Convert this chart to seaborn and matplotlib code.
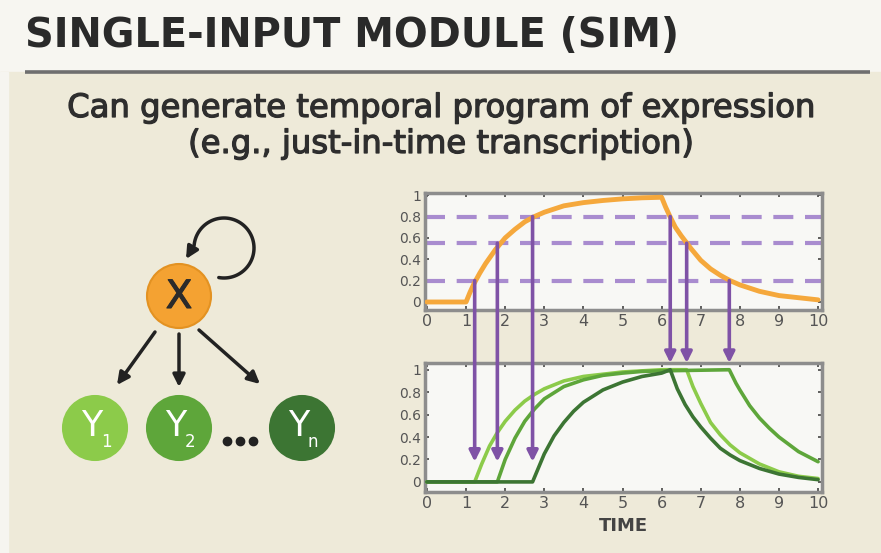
import numpy as np
import pandas as pd
import matplotlib
matplotlib.use("Agg")
import matplotlib.pyplot as plt
import matplotlib.patheffects as pe
import seaborn as sns
from matplotlib.patches import Circle, Rectangle, FancyArrowPatch, ConnectionPatch
from matplotlib.path import Path

# Input X (orange)
x_time = [0.0, 1.0, 1.1, 1.2, 1.35, 1.5, 1.75, 2.0, 2.25, 2.5, 2.75, 3.0, 3.5, 4.0,
          4.5, 5.0, 5.5, 6.0, 6.1, 6.2, 6.35, 6.5, 6.75, 7.0, 7.25, 7.5, 7.75, 8.0,
          8.5, 9.0, 9.5, 10.0]
x_level = [0.0, 0.0, 0.09, 0.17, 0.27, 0.36, 0.49, 0.60, 0.68, 0.75, 0.80, 0.84, 0.90, 0.93,
           0.95, 0.965, 0.975, 0.98, 0.89, 0.81, 0.70, 0.62, 0.50, 0.39, 0.31, 0.25, 0.20, 0.16,
           0.10, 0.06, 0.04, 0.02]

# activation thresholds (dashed lines)
thresholds = [0.2, 0.55, 0.8]
# crossing times
on_times = [1.22, 1.8, 2.7]
off_times = [6.22, 6.64, 7.73]

# targets Y1, Y2, Yn (bottom panel)
y1_time = [0.0, 1.22, 1.4, 1.6, 1.8, 2.0, 2.25, 2.5, 2.75, 3.0, 3.5, 4.0, 4.5, 5.0, 5.5, 6.0,
           6.64, 6.8, 7.0, 7.25, 7.5, 7.75, 8.0, 8.5, 9.0, 9.5, 10.0]
y1_level = [0.0, 0.0, 0.16, 0.32, 0.44, 0.54, 0.64, 0.72, 0.78, 0.83, 0.90, 0.94, 0.96, 0.98, 0.99, 1.0,
            1.0, 0.85, 0.70, 0.53, 0.42, 0.33, 0.26, 0.16, 0.09, 0.05, 0.03]
y2_time = [0.0, 1.8, 2.0, 2.25, 2.5, 2.75, 3.0, 3.5, 4.0, 4.5, 5.0, 5.5, 6.0, 7.73,
           7.9, 8.0, 8.25, 8.5, 8.75, 9.0, 9.5, 10.0]
y2_level = [0.0, 0.0, 0.20, 0.39, 0.54, 0.65, 0.74, 0.85, 0.91, 0.95, 0.97, 0.985, 0.99, 1.0,
            0.88, 0.82, 0.68, 0.57, 0.48, 0.40, 0.27, 0.18]
yn_time = [0.0, 2.7, 3.0, 3.25, 3.5, 3.75, 4.0, 4.5, 5.0, 5.5, 6.0, 6.22, 6.4, 6.6, 6.8,
           7.0, 7.25, 7.5, 7.75, 8.0, 8.5, 9.0, 9.5, 10.0]
yn_level = [0.0, 0.0, 0.25, 0.41, 0.53, 0.63, 0.71, 0.82, 0.89, 0.94, 0.97, 1.0, 0.83, 0.69, 0.58,
            0.49, 0.39, 0.30, 0.24, 0.19, 0.12, 0.07, 0.04, 0.02]

yticks = [0, 0.2, 0.4, 0.6, 0.8, 1]
ytick_labels = ["0", "0.2", "0.4", "0.6", "0.8", "1"]
xticks = list(range(0, 11))

orange = "#f5a83c"
purple = "#7f52a6"
lavender = "#a98ccf"
green_light = "#8ccb4a"
green_mid = "#5ea63a"
green_dark = "#3c7533"

sns.set_style("ticks")
plt.rcParams["font.family"] = ["DejaVu Sans"]

fig = plt.figure(figsize=(8.81, 5.53), dpi=100)

# background / diagram layer in pixel coordinates
bg = fig.add_axes([0, 0, 1, 1])
bg.set_xlim(0, 881)
bg.set_ylim(553, 0)
bg.axis("off")
bg.add_patch(Rectangle((0, 0), 881, 72, color="#f7f6f1", zorder=0))
bg.add_patch(Rectangle((0, 72), 881, 481, color="#eeead9", zorder=0))
bg.add_patch(Rectangle((0, 72), 8, 481, color="#f6f5f0", zorder=0))
bg.plot([25, 870], [72, 72], color="#6f6f6f", lw=2.6, solid_capstyle="butt", zorder=1)

bg.text(25, 47, "SINGLE-INPUT MODULE (SIM)", fontsize=28.7, fontweight="bold",
        color="#2a2a2a", ha="left", va="baseline")
thick = [pe.withStroke(linewidth=0.9, foreground="#2e2e2e")]
bg.text(441, 117, "Can generate temporal program of expression", fontsize=23.2,
        color="#2e2e2e", ha="center", va="baseline", path_effects=thick)
bg.text(441, 153, "(e.g., just-in-time transcription)", fontsize=23.2,
        color="#2e2e2e", ha="center", va="baseline", path_effects=thick)

# network motif
bg.add_patch(Circle((179, 296), 32, facecolor="#f4a232", edgecolor="#e39222", lw=1.5, zorder=3))
bg.text(179, 297, "X", fontsize=28, color="#2b2b2b", ha="center", va="center", zorder=4,
        path_effects=[pe.withStroke(linewidth=0.8, foreground="#2b2b2b")])

nodes = [(95, 428, green_light, "1"), (179, 428, green_mid, "2"), (302, 428, green_dark, "n")]
for cx, cy, col, sub in nodes:
    bg.add_patch(Circle((cx, cy), 32, facecolor=col, edgecolor=col, lw=1.5, zorder=3))
    bg.text(cx - 3, cy - 2, "Y", fontsize=25, color="white", ha="center", va="center", zorder=4)
    bg.text(cx + 11, cy + 14, sub, fontsize=12, color="white", ha="center", va="center", zorder=4)

bg.plot([227, 240, 253], [441, 441, 441], "o", color="#222222", ms=6, zorder=4)

for start, end in [((155, 332), (117, 385)), ((179, 334), (179, 387)), ((199, 330), (260, 384))]:
    bg.add_patch(FancyArrowPatch(start, end, arrowstyle="-|>", mutation_scale=18,
                                 lw=2.5, color="#222222", shrinkA=0, shrinkB=0, zorder=4))

# self-regulation loop on X
theta = np.radians(np.linspace(100, -175, 80))
loop = np.column_stack([224 + 30 * np.cos(theta), 248 + 30 * np.sin(theta)])
loop = np.vstack([loop, [[186, 259]]])
bg.add_patch(FancyArrowPatch(path=Path(loop), arrowstyle="-|>", mutation_scale=18,
                             lw=2.5, color="#222222", zorder=4))

# time-course panels
ax_top = fig.add_axes([425 / 881, 1 - 310 / 553, 397 / 881, 117 / 553])
ax_bot = fig.add_axes([425 / 881, 1 - 492 / 553, 397 / 881, 129 / 553])

for thr in thresholds:
    ax_top.axhline(thr, color=lavender, lw=3, dashes=(4.8, 2.8), zorder=2)

sns.lineplot(x=x_time, y=x_level, ax=ax_top, color=orange, lw=3.5,
             estimator=None, sort=False, zorder=3)

curves = pd.DataFrame({
    "time": y1_time + y2_time + yn_time,
    "level": y1_level + y2_level + yn_level,
    "gene": ["Y1"] * len(y1_time) + ["Y2"] * len(y2_time) + ["Yn"] * len(yn_time),
})
sns.lineplot(data=curves, x="time", y="level", hue="gene", ax=ax_bot,
             palette={"Y1": green_light, "Y2": green_mid, "Yn": green_dark},
             lw=2.6, estimator=None, sort=False, legend=False, zorder=3)

ax_top.set_ylim(-0.075, 1.02)
ax_bot.set_ylim(-0.09, 1.06)
for ax in (ax_top, ax_bot):
    ax.set_facecolor("#f8f8f5")
    ax.set_xlim(-0.05, 10.1)
    ax.set_xticks(xticks)
    ax.set_xticklabels([str(t) for t in xticks], fontsize=11.5, color="#555555")
    ax.set_yticks(yticks)
    ax.set_yticklabels(ytick_labels, fontsize=10, color="#555555")
    ax.tick_params(direction="in", length=3, width=1.2, color="#444444",
                   top=True, right=True, pad=3)
    ax.set_xlabel("")
    ax.set_ylabel("")
    for sp in ax.spines.values():
        sp.set_visible(True)
        sp.set_color("#8d8d8d")
        sp.set_linewidth(2.5)

ax_bot.set_xlabel("TIME", fontsize=13, fontweight="bold", color="#444444", labelpad=4)

# threshold crossings mapped down to target activation
for t, thr in zip(on_times, thresholds):
    fig.add_artist(ConnectionPatch((t, thr), (t, 0.18), coordsA=ax_top.transData,
                                   coordsB=ax_bot.transData, arrowstyle="-|>",
                                   mutation_scale=16, lw=2.6, color=purple, zorder=5))
for t, thr in zip(off_times, thresholds[::-1]):
    fig.add_artist(ConnectionPatch((t, thr), (t, 1.06), coordsA=ax_top.transData,
                                   coordsB=ax_bot.transData, arrowstyle="-|>",
                                   mutation_scale=16, lw=2.6, color=purple, zorder=5))

fig.savefig("out.png", dpi=100)
